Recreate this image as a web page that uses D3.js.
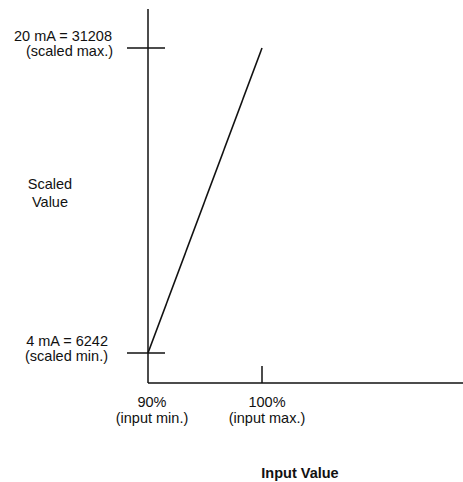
<!DOCTYPE html>
<html><head><meta charset="utf-8">
<script src="https://cdn.jsdelivr.net/npm/d3@7"></script>
<style>html,body{margin:0;padding:0;background:#fff;}svg{display:block;}text{font-family:"Liberation Sans",Arial,sans-serif;font-size:14.5px;fill:#111;}</style>
</head><body><div id="chart"></div>
<script>
// Data
const inputPercent = [90, 100];           // input min, input max
const scaledValues = [6242, 31208];       // scaled min, scaled max
const xTickLabels = [["90%", "(input min.)"], ["100%", "(input max.)"]];
const yTickLabels = [["4 mA = 6242", "(scaled min.)"], ["20 mA = 31208", "(scaled max.)"]];
const xTitle = "Input Value";
const yTitle = ["Scaled", "Value"];

const W = 463, H = 482;
const svg = d3.select("#chart").append("svg").attr("width", W).attr("height", H);

const x = d3.scaleLinear().domain(inputPercent).range([148, 262]);
const y = d3.scaleLinear().domain(scaledValues).range([353, 48]);
const x0 = x(inputPercent[0]), yAxisPos = 383;

// axes lines
svg.append("line").attr("x1", x0).attr("x2", x0).attr("y1", 9).attr("y2", yAxisPos)
  .attr("stroke", "#111").attr("stroke-width", 1.5);
svg.append("line").attr("x1", x0).attr("x2", W).attr("y1", yAxisPos).attr("y2", yAxisPos)
  .attr("stroke", "#111").attr("stroke-width", 1.5);

// y ticks (cross the axis)
scaledValues.forEach((v, i) => {
  svg.append("line").attr("x1", x0 - 21).attr("x2", x0 + 17).attr("y1", y(v)).attr("y2", y(v))
    .attr("stroke", "#111").attr("stroke-width", 1.5);
  const t = svg.append("text").attr("text-anchor", "end");
  const xr = i === 0 ? 108 : 112;
  t.append("tspan").attr("x", xr).attr("y", y(v) - 7).text(yTickLabels[i][0]);
  t.append("tspan").attr("x", xr + (i === 0 ? 0 : 1)).attr("y", y(v) + 8).text(yTickLabels[i][1]);
});

// x tick at input max
svg.append("line").attr("x1", x(inputPercent[1])).attr("x2", x(inputPercent[1]))
  .attr("y1", yAxisPos - 17).attr("y2", yAxisPos).attr("stroke", "#111").attr("stroke-width", 1.5);

inputPercent.forEach((v, i) => {
  const cx = x(v) + (i === 0 ? 4 : 5);
  const t = svg.append("text").attr("text-anchor", "middle");
  t.append("tspan").attr("x", cx).attr("y", 407).text(xTickLabels[i][0]);
  t.append("tspan").attr("x", cx).attr("y", 423).text(xTickLabels[i][1]);
});

// scaling line
svg.append("path")
  .datum(inputPercent.map((v, i) => [v, scaledValues[i]]))
  .attr("d", d3.line().x(d => x(d[0])).y(d => y(d[1])))
  .attr("fill", "none").attr("stroke", "#111").attr("stroke-width", 1.6);

// titles
svg.append("text").attr("x", 300).attr("y", 478).attr("text-anchor", "middle")
  .style("font-weight", "bold").text(xTitle);
const yt = svg.append("text").attr("text-anchor", "middle");
yt.append("tspan").attr("x", 50).attr("y", 189).text(yTitle[0]);
yt.append("tspan").attr("x", 50).attr("y", 207).text(yTitle[1]);
</script></body></html>
